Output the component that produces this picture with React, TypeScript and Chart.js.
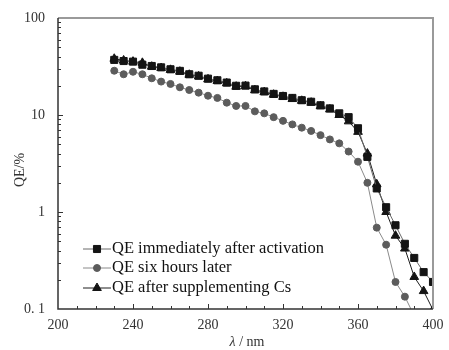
import React, { useEffect, useRef } from "react";
import { Chart, registerables } from "chart.js";

Chart.register(...registerables);

const wavelengths = [230, 235, 240, 245, 250, 255, 260, 265, 270, 275, 280, 285, 290, 295, 300, 305, 310, 315, 320, 325, 330, 335, 340, 345, 350, 355, 360, 365, 370, 375, 380, 385, 390, 395, 400];
const qeImmediate = [37, 36, 35.5, 33, 32, 31, 29.6, 28.5, 26.3, 25.4, 23.7, 22.8, 21.6, 20, 20.1, 18.4, 17.5, 16.5, 15.7, 15, 14.2, 13.7, 12.6, 11.7, 10.4, 9.5, 7.3, 3.7, 1.75, 1.12, 0.73, 0.47, 0.336, 0.24, 0.19];
const qeSixHours = [28.6, 26.3, 27.9, 26.3, 23.9, 22.1, 20.9, 19.3, 18.1, 17, 15.8, 15, 13.4, 12.4, 12.4, 10.9, 10.4, 9.5, 8.7, 8.0, 7.4, 6.85, 6.2, 5.6, 5.1, 4.2, 3.3, 2.0, 0.69, 0.46, 0.19, 0.134, 0.085];
const qeSupplement = [38, 36.5, 35.5, 34.5, 31.5, 30.5, 29.2, 28, 26, 25, 23.3, 22.4, 21.2, 19.6, 19.8, 18, 17.2, 16.2, 15.4, 14.6, 14, 13.4, 12.3, 11.4, 10, 8.6, 6.7, 4.0, 1.93, 1.0, 0.57, 0.42, 0.214, 0.153, 0.098];
const seriesLabels = ["QE immediately after activation", "QE six hours later", "QE after supplementing Cs"];
const yTickValues = [0.1, 1, 10, 100];
const yTickLabels = ["0. 1", "1", "10", "100"];

const FONT = "'Liberation Serif', 'DejaVu Serif', serif";

const toPoints = (vals: number[]) => vals.map((v, i) => ({ x: wavelengths[i], y: v }));

function drawMarker(ctx: CanvasRenderingContext2D, style: string, x: number, y: number, r: number) {
  ctx.beginPath();
  if (style === "rect") {
    const s = Math.SQRT1_2 * r;
    ctx.rect(x - s, y - s, 2 * s, 2 * s);
  } else if (style === "triangle") {
    ctx.moveTo(x, y - r);
    ctx.lineTo(x + r * 0.866, y + r * 0.5);
    ctx.lineTo(x - r * 0.866, y + r * 0.5);
    ctx.closePath();
  } else {
    ctx.arc(x, y, r, 0, Math.PI * 2);
  }
  ctx.fill();
  ctx.stroke();
}

const framePlugin = {
  id: "frame",
  afterDraw(chart: any) {
    const { ctx, chartArea: a, scales } = chart;
    const xs = scales.x;
    const ys = scales.y;
    ctx.save();
    ctx.strokeStyle = "#9a9a9a";
    ctx.lineWidth = 2;
    ctx.beginPath();
    ctx.moveTo(a.left, a.top);
    ctx.lineTo(a.right, a.top);
    ctx.lineTo(a.right, a.bottom);
    ctx.stroke();
    ctx.strokeStyle = "#333";
    ctx.lineWidth = 1.5;
    ctx.beginPath();
    ctx.moveTo(a.left, a.top);
    ctx.lineTo(a.left, a.bottom);
    ctx.lineTo(a.right, a.bottom);
    ctx.stroke();
    ctx.lineWidth = 1;
    for (let v = 210; v < 400; v += 10) {
      const px = Math.round(xs.getPixelForValue(v)) + 0.5;
      const len = v % 40 === 0 ? 5 : 3;
      ctx.beginPath();
      ctx.moveTo(px, a.bottom);
      ctx.lineTo(px, a.bottom - len);
      ctx.stroke();
    }
    for (let d = -1; d < 2; d++) {
      for (let m = 1; m <= 10; m++) {
        const v = m * Math.pow(10, d);
        if (v <= 0.1 || v >= 100) continue;
        const py = Math.round(ys.getPixelForValue(v)) + 0.5;
        const len = m === 1 || m === 10 ? 5 : 3;
        ctx.beginPath();
        ctx.moveTo(a.left, py);
        ctx.lineTo(a.left + len, py);
        ctx.stroke();
      }
    }
    ctx.fillStyle = "#333";
    ctx.font = `14px ${FONT}`;
    ctx.save();
    ctx.translate(20, 170);
    ctx.rotate(-Math.PI / 2);
    ctx.textAlign = "center";
    ctx.textBaseline = "middle";
    ctx.fillText("QE/%", 0, 0);
    ctx.restore();
    ctx.textBaseline = "middle";
    ctx.font = `italic 14px ${FONT}`;
    const lam = "λ";
    const rest = " / nm";
    const lw = ctx.measureText(lam).width;
    ctx.font = `14px ${FONT}`;
    const rw = ctx.measureText(rest).width;
    const startX = 247 - (lw + rw) / 2;
    ctx.font = `italic 14px ${FONT}`;
    ctx.textAlign = "left";
    ctx.fillText(lam, startX, 342);
    ctx.font = `14px ${FONT}`;
    ctx.fillText(rest, startX + lw, 342);
    const rows = [249, 268, 288];
    chart.data.datasets.forEach((ds: any, i: number) => {
      const y = rows[i];
      ctx.strokeStyle = ds.borderColor;
      ctx.lineWidth = ds.borderWidth;
      ctx.beginPath();
      ctx.moveTo(83, y);
      ctx.lineTo(111, y);
      ctx.stroke();
      ctx.fillStyle = ds.pointBackgroundColor;
      ctx.strokeStyle = ds.pointBorderColor;
      ctx.lineWidth = 1;
      drawMarker(ctx, ds.pointStyle, 97, y, ds.pointRadius);
      ctx.fillStyle = "#111";
      ctx.font = `16.5px ${FONT}`;
      ctx.textAlign = "left";
      ctx.textBaseline = "middle";
      ctx.fillText(ds.label, 112, y);
    });
    ctx.restore();
  },
};

export default function App() {
  const ref = useRef<HTMLCanvasElement>(null);
  useEffect(() => {
    document.body.style.margin = "0";
    const chart = new Chart(ref.current as HTMLCanvasElement, {
      type: "line",
      data: {
        datasets: [
          {
            label: seriesLabels[0],
            data: toPoints(qeImmediate),
            borderColor: "#6a6a6a",
            borderWidth: 1,
            pointStyle: "rect",
            pointRadius: 5,
            pointBackgroundColor: "#141414",
            pointBorderColor: "#141414",
            pointBorderWidth: 1,
          },
          {
            label: seriesLabels[1],
            data: toPoints(qeSixHours),
            borderColor: "#8a8a8a",
            borderWidth: 1,
            pointStyle: "circle",
            pointRadius: 3.5,
            pointBackgroundColor: "#5c5c5c",
            pointBorderColor: "#5c5c5c",
            pointBorderWidth: 1,
          },
          {
            label: seriesLabels[2],
            data: toPoints(qeSupplement),
            borderColor: "#1e1e1e",
            borderWidth: 1,
            pointStyle: "triangle",
            pointRadius: 5,
            pointBackgroundColor: "#141414",
            pointBorderColor: "#141414",
            pointBorderWidth: 1,
          },
        ],
      },
      options: {
        responsive: false,
        animation: false,
        layout: { padding: { left: 0, right: 16, top: 18, bottom: 0 } },
        plugins: { legend: { display: false }, tooltip: { enabled: false } },
        scales: {
          x: {
            type: "linear",
            min: 200,
            max: 400,
            grid: { display: false },
            border: { display: false },
            ticks: {
              stepSize: 40,
              color: "#333",
              font: { family: FONT, size: 14 },
              padding: 0,
              maxRotation: 0,
            },
            afterFit: (s: any) => {
              s.height = 41;
            },
          },
          y: {
            type: "logarithmic",
            min: 0.1,
            max: 100,
            grid: { display: false },
            border: { display: false },
            afterBuildTicks: (s: any) => {
              s.ticks = yTickValues.map((v) => ({ value: v }));
            },
            ticks: {
              color: "#333",
              font: { family: FONT, size: 14 },
              padding: 5,
              callback: (v: any) => {
                const i = yTickValues.indexOf(Number(v));
                return i >= 0 ? yTickLabels[i] : "";
              },
            },
            afterFit: (s: any) => {
              s.width = 58;
            },
          },
        },
      },
      plugins: [framePlugin],
    } as any);
    return () => chart.destroy();
  }, []);
  return <canvas ref={ref} width={449} height={350} style={{ display: "block" }} />;
}
